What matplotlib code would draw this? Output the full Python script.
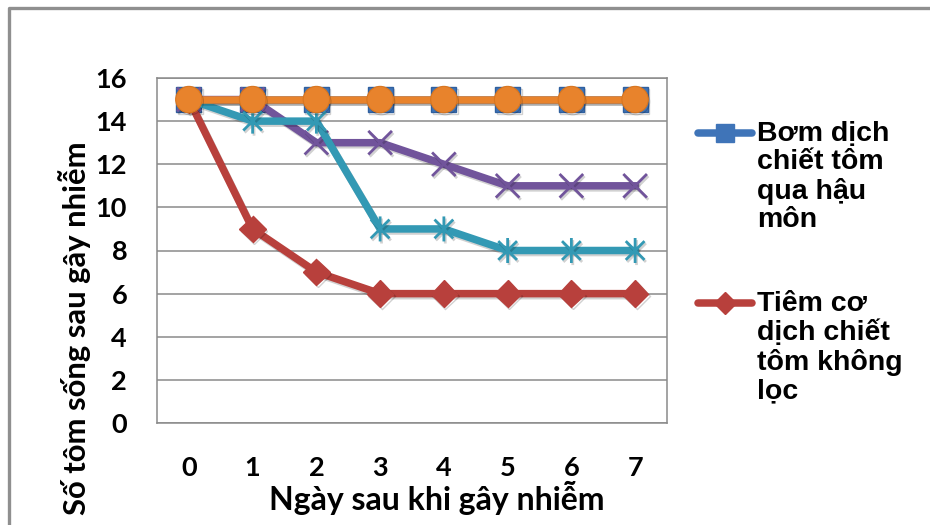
import matplotlib
matplotlib.use("Agg")
import matplotlib.pyplot as plt
import matplotlib.patheffects as pe
from matplotlib.path import Path
from matplotlib.lines import Line2D

days = [0, 1, 2, 3, 4, 5, 6, 7]
bom_hau_mon = [15, 15, 15, 15, 15, 15, 15, 15]
tiem_co_khong_loc = [15, 9, 7, 6, 6, 6, 6, 6]
series_purple = [15, 15, 13, 13, 12, 11, 11, 11]
series_teal = [15, 14, 14, 9, 9, 8, 8, 8]
series_orange = [15, 15, 15, 15, 15, 15, 15, 15]
y_ticks = [0, 2, 4, 6, 8, 10, 12, 14, 16]
legend_labels = ["Bơm dịch\nchiết tôm\nqua hậu\nmôn", "Tiêm cơ\ndịch chiết\ntôm không\nlọc"]
x_title = "Ngày sau khi gây nhiễm"
y_title = "Số tôm sống sau gây nhiễm"

W, H = 930, 525
fig = plt.figure(figsize=(W / 100, H / 100), dpi=100)

def fx(px):
    return px / W

def fy(py):
    return 1 - py / H

# outer chart frame (top and left edges visible)
fig.add_artist(Line2D([fx(9), fx(9), fx(W + 5)], [fy(H + 5), fy(8), fy(8)],
                      transform=fig.transFigure, color="#8f8f8f", lw=2.4))

L, R, T, B = 157, 667, 78, 423
ax = fig.add_axes([fx(L), fy(B), (R - L) / W, (B - T) / H])

star = Path([(0, -1), (0, 1), (-0.75, -0.75), (0.75, 0.75), (-0.75, 0.75), (0.75, -0.75)],
            [Path.MOVETO, Path.LINETO, Path.MOVETO, Path.LINETO, Path.MOVETO, Path.LINETO])
xmark = Path([(-1, -1), (1, 1), (-1, 1), (1, -1)],
             [Path.MOVETO, Path.LINETO, Path.MOVETO, Path.LINETO])

shadow = [pe.SimpleLineShadow(offset=(1, -1.5), alpha=0.18), pe.Normal()]
lw = 5.4

blue = "#3f74b8"
red = "#b8403c"
purple = "#71549b"
teal = "#3399b4"
orange = "#e8832c"

ax.plot(days, bom_hau_mon, color=blue, lw=lw, marker="s", ms=18, mec="#2f5f9e",
        mew=1, zorder=3, path_effects=shadow)
ax.plot(days, tiem_co_khong_loc, color=red, lw=lw, marker="D", ms=13.5, mec=red,
        zorder=4, path_effects=shadow)
ax.plot(days, series_purple, color=purple, lw=lw, marker=xmark, ms=17, mew=2,
        mec=purple, zorder=5, path_effects=shadow)
ax.plot(days, series_teal, color=teal, lw=lw, marker=star, ms=18, mew=2,
        mec=teal, zorder=6, path_effects=shadow)
ax.plot(days, series_orange, color=orange, lw=lw, marker="o", ms=19, mec="#d9761f",
        mew=0.8, zorder=7, path_effects=shadow)

ax.set_xlim(-0.5, 7.5)
ax.set_ylim(0, 16)
ax.set_yticks(y_ticks)
ax.set_xticks(days)
ax.yaxis.grid(True, color="#8a8a8a", lw=1.1)
ax.set_axisbelow(True)
for s in ax.spines.values():
    s.set_color("#8a8a8a")
    s.set_linewidth(1.1)
ax.tick_params(length=0)
tick_font = dict(family="Lato", weight="bold", size=19.5)
ax.set_yticklabels([str(v) for v in y_ticks], **tick_font)
ax.set_xticklabels([str(v) for v in days], **tick_font)
ax.tick_params(axis="y", pad=21.5)
ax.tick_params(axis="x", pad=24)

fig.text(fx(437), fy(510), x_title, ha="center", va="baseline",
         family="Lato", weight="bold", size=23)
fig.text(fx(75), fy(328), y_title, ha="center", va="center", rotation=90,
         family="Lato", weight="bold", size=22.3)

# legend
handle_x0, handle_x1 = 698, 752
entries = [(legend_labels[0], blue, "s", 133), (legend_labels[1], red, "D", 303)]
for label, col, mk, yy in entries:
    fig.add_artist(Line2D([fx(handle_x0), fx(handle_x1)], [fy(yy), fy(yy)],
                          transform=fig.transFigure, color=col, lw=lw,
                          solid_capstyle="round"))
    fig.add_artist(Line2D([fx((handle_x0 + handle_x1) / 2)], [fy(yy)],
                          transform=fig.transFigure, color=col, marker=mk,
                          ms=13 if mk == "s" else 11, mec=col))
    fig.text(fx(757), fy(yy - 12), label, ha="left", va="top",
             family="Liberation Sans", weight="bold", size=20.5, linespacing=1.12)

fig.savefig("out.png", dpi=100)
